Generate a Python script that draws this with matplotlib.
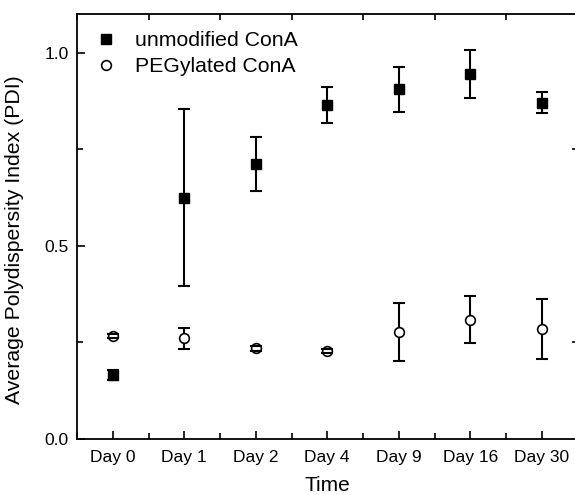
import matplotlib
matplotlib.use("Agg")
import matplotlib.pyplot as plt
from matplotlib.ticker import MultipleLocator

plt.rcParams['font.family'] = ['Liberation Sans', 'DejaVu Sans']

days = ['Day 0', 'Day 1', 'Day 2', 'Day 4', 'Day 9', 'Day 16', 'Day 30']
unmod = [0.166, 0.625, 0.712, 0.865, 0.905, 0.944, 0.870]
unmod_err = [0.012, 0.23, 0.07, 0.047, 0.058, 0.062, 0.027]
peg = [0.267, 0.261, 0.235, 0.228, 0.278, 0.309, 0.284]
peg_err = [0.006, 0.027, 0.006, 0.006, 0.075, 0.060, 0.078]

fig = plt.figure(figsize=(5.75, 4.95), dpi=100)
ax = fig.add_axes([77/575, 56/495, 500.5/575, 425/495])
x = list(range(len(days)))

# markers
ax.plot(x, unmod, 's', color='black', markersize=6.5, zorder=3,
        label='unmodified ConA')
ax.plot(x, peg, 'o', markerfacecolor='white', markeredgecolor='black',
        markeredgewidth=1.2, markersize=7, zorder=3, label='PEGylated ConA')

# error bars: stems under marker, caps on top
for y, e in [(unmod, unmod_err), (peg, peg_err)]:
    _, caps, bars = ax.errorbar(x, y, yerr=e, fmt='none', ecolor='black',
                                elinewidth=1.5, capsize=4.2, capthick=1.5)
    for b in bars:
        b.set_zorder(2)
    for c in caps:
        c.set_zorder(4)

ax.set_xlim(-0.5, 6.5)
ax.set_ylim(0, 1.1)
ax.set_xticks(x)
ax.set_xticklabels(days)
ax.set_xticks([i + 0.5 for i in range(-1, 7)], minor=True)
ax.yaxis.set_major_locator(MultipleLocator(0.5))
ax.yaxis.set_minor_locator(MultipleLocator(0.25))

ax.tick_params(which='both', direction='in', labelsize=12.5, width=1.2,
               colors='black')
ax.tick_params(which='major', length=6, pad=8)
ax.tick_params(axis='y', which='major', pad=6)
ax.tick_params(which='minor', length=4, top=True, right=True)
for s in ax.spines.values():
    s.set_linewidth(1.3)

ax.set_xlabel('Time', fontsize=15)
ax.set_ylabel('Average Polydispersity Index (PDI)', fontsize=15.3)
ax.yaxis.set_label_coords(-0.106, 0.468)
ax.xaxis.set_label_coords(0.5, -0.086)

ax.legend(loc='upper left', frameon=False, fontsize=15.3, handletextpad=0.85,
          handlelength=1.1, borderaxespad=0.4, labelspacing=0.35)

fig.savefig('out.png', dpi=100)
